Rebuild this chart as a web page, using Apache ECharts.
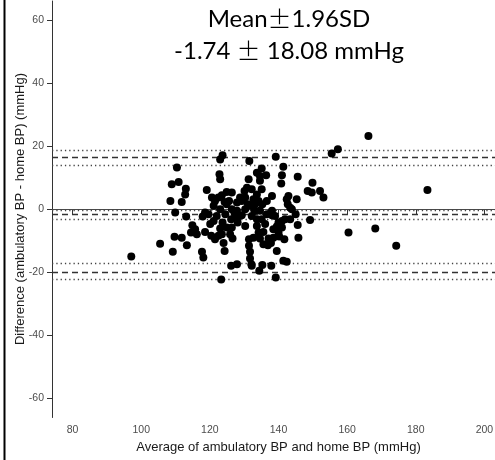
<!DOCTYPE html>
<html>
<head>
<meta charset="utf-8">
<script src="https://cdn.jsdelivr.net/npm/echarts@6/dist/echarts.min.js"></script>
<style>html,body{margin:0;padding:0;background:#fff}#c{width:495px;height:460px}</style>
</head>
<body>
<div id="c"></div>
<script>
// Average of ambulatory BP and home BP (mmHg)
const averageBP = [
  97.1,105.5,109.2,109.7,111.8,113.3,110.4,108.9,110.9,108.5,111.8,112.8,113.0,109.9,113.1,114.9,115.7,114.5,116.2,117.7,
  118.1,119.1,118.6,117.9,118.6,120.1,120.6,121.1,121.5,120.4,121.5,123.0,123.7,123.0,122.8,123.5,123.0,123.0,122.5,124.3,
  124.0,123.3,124.9,126.4,124.9,125.6,124.5,126.2,127.4,125.9,126.6,126.2,127.9,127.2,128.3,129.3,129.3,130.1,130.8,131.3,
  131.5,130.3,131.1,132.2,133.0,132.2,133.7,133.7,134.6,135.1,136.4,134.2,135.3,136.6,138.1,134.6,133.7,136.1,134.6,135.6,
  131.4,131.4,131.7,131.7,132.2,134.4,135.3,137.9,139.2,136.9,137.8,138.5,139.5,140.2,140.0,139.5,139.0,141.0,141.9,139.2,
  141.4,141.0,140.8,142.9,142.7,143.4,145.0,145.6,145.8,141.7,141.4,142.4,145.3,145.6,149.2,148.5,149.9,149.7,152.1,153.1,
  155.5,157.3,160.4,138.1,166.2,183.4,168.2,174.3,132.1,
  119.6,121.1,122.0,123.7,124.9,123.5,127.9,128.8,130.3,132.7,133.2,135.1,136.6,138.1,140.0,141.0,138.5,137.1,135.6,132.7,
  134.2,130.3,128.1,126.4,142.4,143.9,143.4,132.2,133.7,135.1,134.6,122.5,124.3,126.4,127.9
];
// Difference (ambulatory BP - home BP) (mmHg)
const differenceBP = [
  -15.0,-10.9,-13.5,-8.7,-9.0,-11.4,13.2,7.9,8.6,2.6,2.3,4.7,6.5,-1.0,-2.3,-5.1,-6.3,-7.4,-7.9,-13.5,
  -15.3,6.1,-7.2,-2.3,-1.0,-4.7,3.7,1.1,2.6,-8.4,-9.5,15.8,17.1,9.5,11.1,4.4,0.0,-6.1,-8.4,-13.2,
  -10.7,-22.3,5.5,5.3,1.6,2.6,-1.6,-3.2,-2.6,-7.9,-9.3,-17.9,-17.4,-1.3,-2.3,-1.9,2.6,5.8,6.8,9.5,
  15.3,3.7,1.6,1.0,-0.5,-2.1,-3.2,11.6,9.0,12.9,10.8,2.6,1.6,2.6,4.2,-0.5,-5.3,-4.7,-9.3,-7.2,
  -9.5,-11.6,-13.5,-15.6,-17.9,-19.5,-17.7,-17.9,-21.6,-11.4,-10.7,-9.0,-13.2,-8.6,-7.4,-5.5,-2.1,-3.7,-3.2,16.6,
  13.5,10.8,8.2,4.2,1.6,0.5,-1.6,-5.0,-9.0,-9.5,-16.3,-16.6,3.2,10.3,-3.4,5.8,8.4,5.3,5.8,3.7,
  17.7,19.0,-7.4,-0.5,23.2,6.1,-6.1,-11.6,-17.4,
  -1.6,-3.7,-2.1,-4.2,-5.8,-7.9,2.1,3.7,0.0,3.2,1.6,-3.2,-1.6,-1.9,-4.2,-5.8,-6.3,-9.3,-11.1,-9.0,
  -7.4,-5.3,-4.2,-5.8,3.2,0.0,-3.2,6.3,4.7,6.3,10.5,3.7,2.3,0.0,-0.5
];
// Reference lines
const zeroLine = [0];
const meanLines = [-1.74, 16.34, -19.82];          // mean, upper LoA, lower LoA
const ciLines = [-0.40, -3.08, 18.75, 13.95, -17.15, -22.25]; // confidence limits
const xTicks = [80, 100, 120, 140, 160, 180, 200];
const yTicks = [-60, -40, -20, 0, 20, 40, 60];
const titleLine1 = ['Mean', '±', '1.96SD'];
const titleLine2 = ['-1.74 ', '±', ' 18.08 mmHg'];
const xAxisTitle = 'Average of ambulatory BP and home BP (mmHg)';
const yAxisTitle = 'Difference (ambulatory BP - home BP) (mmHg)';

const chart = echarts.init(document.getElementById('c'), null, {renderer: 'canvas'});
const pts = averageBP.map((x, i) => [x, differenceBP[i]]);
const mlData = [];
zeroLine.forEach(v => mlData.push({yAxis: v, lineStyle: {type: 'solid', color: '#4a4a4a', width: 1.1}}));
meanLines.forEach(v => mlData.push({yAxis: v, lineStyle: {type: [6, 4], color: '#333', width: 1.4}}));
ciLines.forEach(v => mlData.push({yAxis: v, lineStyle: {type: [1.3, 3], color: '#444', width: 1.3}}));

const axisCommon = {
  axisLine: {show: true, lineStyle: {color: '#333', width: 1}},
  splitLine: {show: false},
  nameTextStyle: {fontFamily: 'Liberation Sans', fontSize: 13, color: '#1a1a1a'}
};

chart.setOption({
  animation: false,
  backgroundColor: '#fff',
  grid: {left: 52, top: 1, width: 453, height: 416.5, containLabel: false, outerBoundsMode: 'none'},
  xAxis: Object.assign({}, axisCommon, {
    type: 'value', min: 74, max: 206,
    name: xAxisTitle,
    nameLocation: 'middle', nameGap: 23,
    axisTick: {show: true, length: 5, lineStyle: {color: '#333'}, customValues: xTicks},
    axisLabel: {customValues: xTicks, fontFamily: 'Liberation Sans', fontSize: 10.5, color: '#4d4d4d', margin: 7}
  }),
  yAxis: Object.assign({}, axisCommon, {
    type: 'value', min: -66, max: 66,
    axisTick: {show: true, length: 5, lineStyle: {color: '#333'}, customValues: yTicks},
    axisLabel: {customValues: yTicks, fontFamily: 'Liberation Sans', fontSize: 10.5, color: '#4d4d4d', margin: 8}
  }),
  series: [{
    type: 'scatter',
    data: pts,
    symbolSize: 8,
    itemStyle: {color: '#000', opacity: 1},
    markLine: {silent: true, symbol: ['none', 'none'], label: {show: false}, data: mlData, z: 1},
    z: 3
  }],
  graphic: [
    {type: 'rect', shape: {x: 3.5, y: 0, width: 2, height: 460}, style: {fill: '#000'}},
    {type: 'text', x: 20, y: 209, rotation: Math.PI / 2, style: {
      text: yAxisTitle, align: 'center', verticalAlign: 'middle',
      fontFamily: 'Liberation Sans', fontSize: 13, fill: '#1a1a1a'
    }},
    {type: 'text', x: 289, y: 19, style: {
      text: '{a|' + titleLine1[0] + '}{b|' + titleLine1[1] + '}{a|' + titleLine1[2] + '}',
      align: 'center', verticalAlign: 'middle',
      rich: {a: {fontFamily: 'Lato', fontSize: 24, fill: '#000'}, b: {fontFamily: 'Noto Sans CJK JP', fontSize: 24, fontWeight: 300, fill: '#000'}}
    }},
    {type: 'text', x: 289, y: 51, style: {
      text: '{a|' + titleLine2[0] + '}{b|' + titleLine2[1] + '}{a|' + titleLine2[2] + '}',
      align: 'center', verticalAlign: 'middle',
      rich: {a: {fontFamily: 'Lato', fontSize: 24, fill: '#000'}, b: {fontFamily: 'Noto Sans CJK JP', fontSize: 24, fontWeight: 300, fill: '#000'}}
    }}
  ]
});
</script>
</body>
</html>
